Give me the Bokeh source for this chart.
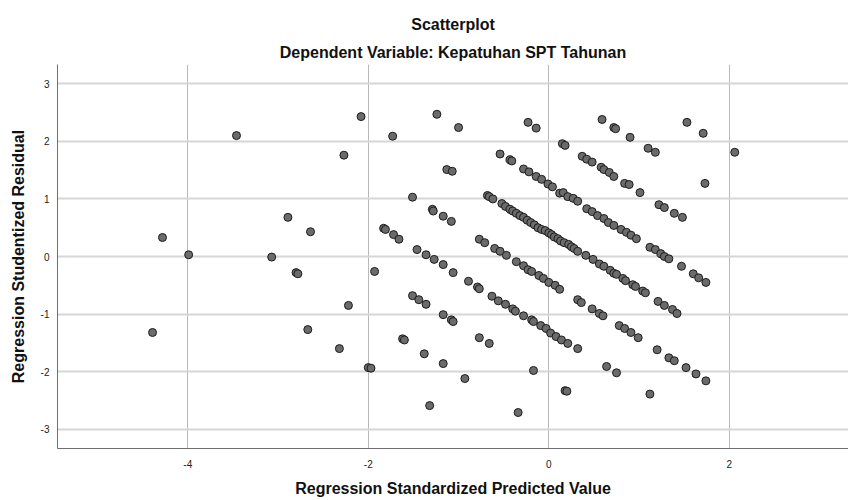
from bokeh.plotting import figure
from bokeh.models import Title, Range1d, FixedTicker
from bokeh.embed import file_html
from bokeh.resources import INLINE

title_text = "Scatterplot"
subtitle_text = "Dependent Variable: Kepatuhan SPT Tahunan"
x_label = "Regression Standardized Predicted Value"
y_label = "Regression Studentized Residual"
x_ticks = [-4, -2, 0, 2]
y_ticks = [-3, -2, -1, 0, 1, 2, 3]

pred = [
    -4.39, -4.28, -3.99, -3.46, -3.07, -2.89, -2.80, -2.78, -2.67, -2.64,
    -2.32, -2.27, -2.22, -2.08, -2.00, -1.97, -1.93, -1.83, -1.81, -1.73,
    -1.72, -1.66, -1.62, -1.60, -1.51, -1.51, -1.46, -1.44, -1.38, -1.36,
    -1.36, -1.32, -1.29, -1.28, -1.27, -1.24, -1.17, -1.17, -1.17, -1.17,
    -1.13, -1.08, -1.08, -1.07, -1.06, -1.06, -1.00, -0.93, -0.89, -0.79,
    -0.77, -0.77, -0.77, -0.71, -0.68, -0.66, -0.66, -0.63, -0.62, -0.60,
    -0.56, -0.54, -0.54, -0.52, -0.48, -0.48, -0.47, -0.43, -0.41, -0.43,
    -0.40, -0.40, -0.37, -0.36, -0.36, -0.34, -0.32, -0.28, -0.28, -0.28,
    -0.28, -0.24, -0.23, -0.23, -0.22, -0.20, -0.19, -0.19, -0.17, -0.17,
    -0.16, -0.14, -0.14, -0.12, -0.11, -0.09, -0.08, -0.08, -0.06, -0.04,
    -0.03, -0.01, 0.00, 0.00, 0.02, 0.03, 0.04, 0.06, 0.07, 0.08,
    0.10, 0.12, 0.12, 0.13, 0.14, 0.15, 0.16, 0.17, 0.18, 0.18,
    0.20, 0.21, 0.21, 0.22, 0.25, 0.27, 0.28, 0.32, 0.32, 0.32,
    0.32, 0.36, 0.37, 0.41, 0.42, 0.42, 0.48, 0.48, 0.48, 0.49,
    0.54, 0.56, 0.56, 0.58, 0.59, 0.60, 0.61, 0.61, 0.61, 0.64,
    0.66, 0.67, 0.68, 0.72, 0.74, 0.72, 0.72, 0.72, 0.75, 0.75,
    0.78, 0.80, 0.82, 0.84, 0.84, 0.85, 0.86, 0.89, 0.90, 0.91,
    0.91, 0.93, 0.96, 0.97, 0.99, 1.01, 1.04, 1.07, 1.10, 1.12,
    1.12, 1.18, 1.18, 1.20, 1.21, 1.22, 1.24, 1.28, 1.28, 1.28,
    1.33, 1.33, 1.37, 1.39, 1.39, 1.42, 1.47, 1.48, 1.52, 1.53,
    1.60, 1.63, 1.66, 1.71, 1.73, 1.74, 1.74, 2.06,
]
resid = [
    -1.32, 0.33, 0.03, 2.10, -0.01, 0.68, -0.28, -0.30, -1.27, 0.43,
    -1.60, 1.76, -0.85, 2.43, -1.93, -1.94, -0.26, 0.49, 0.47, 2.09,
    0.38, 0.30, -1.43, -1.45, 1.03, -0.68, 0.12, -0.75, -1.69, 0.03,
    -0.83, -2.59, 0.82, 0.79, -0.05, 2.47, 0.70, -0.14, -1.01, -1.86,
    1.51, 0.61, -1.10, 1.48, -0.28, -1.13, 2.24, -2.12, -0.43, -0.53,
    -0.56, 0.30, -1.41, 0.24, 1.06, 1.04, -1.51, -0.69, 1.00, 0.14,
    -0.77, 1.78, 0.09, 0.92, 0.87, -0.83, 0.02, 1.68, 1.66, 0.82,
    0.79, -0.91, -0.95, 0.75, -0.09, -2.71, 0.71, 1.52, 0.68, -0.16,
    -1.03, 0.63, 2.33, -0.23, 1.47, 0.59, -0.26, -1.10, -1.13, -1.98,
    0.55, 2.23, 1.39, 0.50, -0.33, -1.20, 1.34, 0.47, -0.38, 0.45,
    -1.25, 1.26, -0.45, 0.41, -1.33, 0.38, 1.21, 0.34, -0.50, -1.39,
    0.31, 1.10, -0.57, 0.27, -1.45, 1.96, 1.11, 0.24, 1.93, -2.33,
    -2.34, 1.04, -1.51, 0.21, 0.17, 1.01, 0.14, 0.96, 0.09, -0.75,
    -1.60, -0.80, 1.74, 0.02, 1.69, 0.83, 1.64, 0.78, -0.91, -0.05,
    0.71, -0.13, -0.99, 1.55, 2.38, -1.03, 1.51, 0.66, -0.17, -1.91,
    0.59, 1.46, -0.24, 2.24, 2.22, 1.39, 0.54, -0.29, -0.31, -2.02,
    -1.20, 0.47, -0.38, 1.27, -1.25, -0.42, 0.42, 1.25, 2.07, 0.37,
    -1.32, -0.49, -0.52, 0.31, -1.41, 1.11, -0.60, -0.63, 1.88, 0.16,
    -2.39, 1.81, 0.12, -1.62, -0.78, 0.90, 0.05, 0.85, 0.00, -0.85,
    -0.04, -1.76, -0.92, 0.75, -1.81, -0.99, -0.17, 0.68, -1.93, 2.33,
    -0.30, -2.04, -0.37, 2.14, 1.27, -0.45, -2.16, 1.81,
]

p = figure(width=848, height=500, output_backend="svg", toolbar_location=None,
           x_range=Range1d(-5.443, 3.320), y_range=Range1d(-3.335, 3.335),
           min_border_left=57, min_border_right=0, min_border_bottom=52,
           min_border_top=64)
p.outline_line_color = None
p.background_fill_color = "white"
p.border_fill_color = "white"

p.add_layout(Title(text=subtitle_text, align="center", text_font="Liberation Sans",
                   text_font_size="16px", text_font_style="bold", text_color="#111111",
                   standoff=8), "above")
p.add_layout(Title(text=title_text, align="center", text_font="Liberation Sans",
                   text_font_size="16px", text_font_style="bold", text_color="#111111",
                   standoff=9), "above")

for ax in (p.xaxis[0], p.yaxis[0]):
    ax.axis_line_color = "#6e6e6e"
    ax.axis_line_width = 1
    ax.major_tick_line_color = None
    ax.minor_tick_line_color = None
    ax.major_label_text_font = "Liberation Sans"
    ax.major_label_text_font_size = "10px"
    ax.major_label_text_color = "#222222"
    ax.axis_label_text_font = "Liberation Sans"
    ax.axis_label_text_font_size = "16px"
    ax.axis_label_text_font_style = "bold"
    ax.axis_label_text_color = "#111111"

p.xaxis.ticker = FixedTicker(ticks=x_ticks)
p.yaxis.ticker = FixedTicker(ticks=y_ticks)
p.xaxis.major_label_overrides = {t: str(t) for t in x_ticks}
p.yaxis.major_label_overrides = {t: str(t) for t in y_ticks}
p.xaxis.axis_label = x_label
p.yaxis.axis_label = y_label
p.xaxis.major_label_standoff = 5
p.yaxis.major_label_standoff = 2
p.xaxis.axis_label_standoff = 9
p.yaxis.axis_label_standoff = 11

p.xgrid.ticker = FixedTicker(ticks=x_ticks)
p.ygrid.ticker = FixedTicker(ticks=y_ticks)
p.xgrid.grid_line_color = "#b8b8b8"
p.xgrid.grid_line_width = 1
p.ygrid.grid_line_color = "#d6d6d6"
p.ygrid.grid_line_width = 2

p.scatter(pred, resid, size=8, fill_color="#6b6b6b", line_color="#1c1c1c",
          line_width=1)

open("out.html", "w").write(file_html(p, INLINE))
